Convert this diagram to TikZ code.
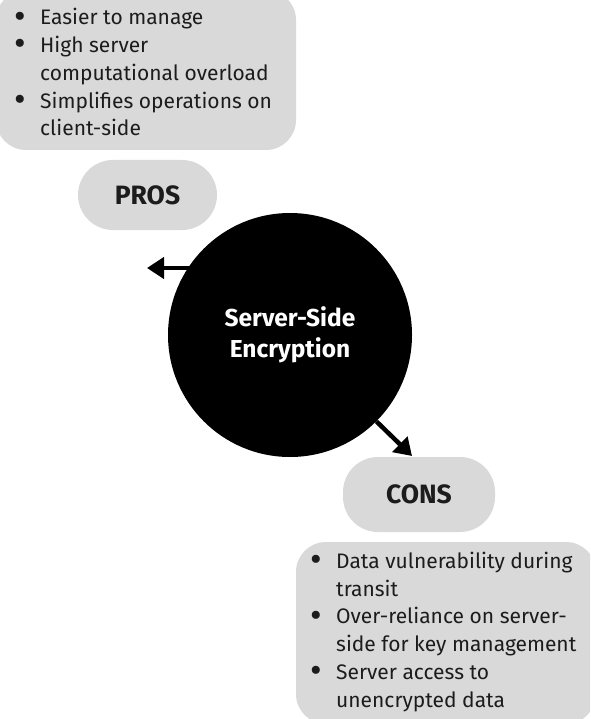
\documentclass[tikz,border=0pt]{standalone}
\usepackage{fontspec}
\setmainfont{Fira Sans}
\usetikzlibrary{arrows.meta}
\definecolor{boxgray}{HTML}{D9D9D9}
\definecolor{ink}{HTML}{1C1C1C}
\newcommand{\itm}{\makebox[26pt][l]{\raisebox{-3.2pt}{\scalebox{1.7}{\textbullet}}}}
\newcommand{\cont}{\hspace*{26pt}}

\begin{document}
\begin{tikzpicture}[x=1pt,y=-1pt,>={Triangle[length=17pt,width=21pt]}]
  \tikzstyle{listbox}=[fill=boxgray,rounded corners=30pt,inner sep=0pt]
  \tikzstyle{listtext}=[align=left,inner sep=0pt,text=ink,font=\fontsize{21}{27.7}\selectfont]
  \tikzstyle{pill}=[fill=boxgray,rounded corners=35pt,inner sep=0pt,text=ink,
                    font=\fontsize{26.5}{28}\selectfont\bfseries]
  \tikzstyle{hub}=[circle,fill=black,text=white,align=center,inner sep=0pt,
                   minimum size=244pt,font=\fontsize{24.5}{31}\selectfont\bfseries]
  \tikzstyle{link}=[->,line width=4.5pt,draw=black]

  \useasboundingbox (0,0) rectangle (590,719);
  \clip (0,0) rectangle (590,719);

  % boxes and pills
  \node[listbox,minimum width=300pt,minimum height=160pt] (probox) at (146,70) {};
  \node[listbox,minimum width=300pt,minimum height=182pt] (conbox) at (446,633) {};
  \node[pill,minimum width=139pt,minimum height=70pt] (pros) at (147.5,195) {PROS};
  \node[pill,minimum width=152pt,minimum height=75pt] (cons) at (419,494.5) {CONS};
  \node[hub] (hub) at (290,335) {Server-Side\\Encryption};

  % lists
  \node[listtext,anchor=base west] (prolist) at (14,135.8)
    {\itm Easier to manage\\
     \itm High server\\
     \cont computational overload\\
     \itm Simplifies operations on\\
     \cont client-side};
  \node[listtext,anchor=base west] (conlist) at (310,707)
    {\itm Data vulnerability during\\
     \cont transit\\
     \itm Over-reliance on server-\\
     \cont side for key management\\
     \itm Server access to\\
     \cont unencrypted data};

  % arrows
  \coordinate (protip) at (147,268);
  \coordinate (contip) at (412,456);
  \draw[link] (hub.146.7 |- protip) -- (protip);
  \draw[link] (hub.-45) -- (contip);
\end{tikzpicture}
\end{document}
